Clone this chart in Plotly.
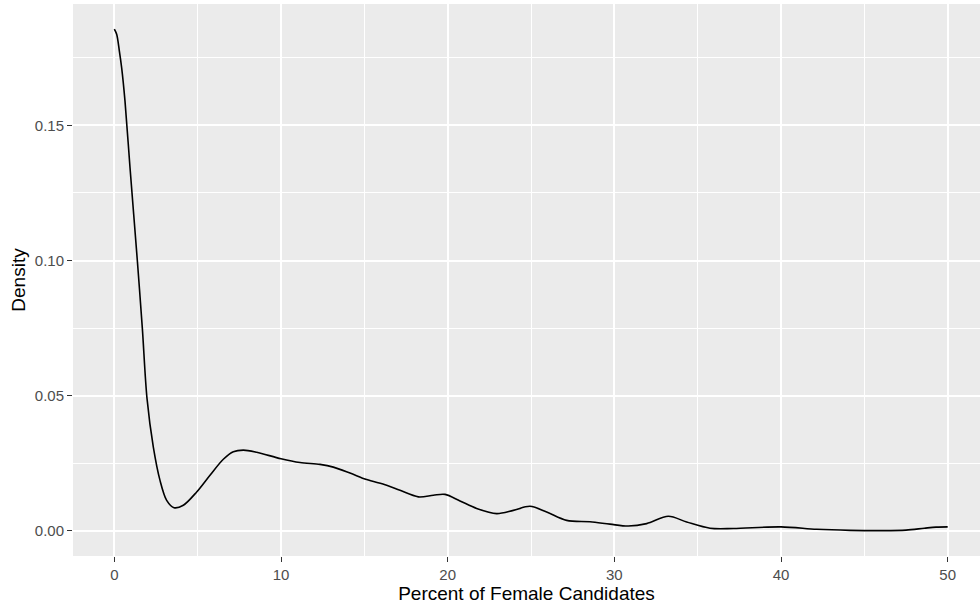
import plotly.graph_objects as go

# Density curve points
pct = [0.0, 0.14, 0.3, 0.44, 0.64, 0.94, 1.38, 1.68, 1.96, 2.34, 2.74, 3.14, 3.58, 4.14, 4.94,
       5.74, 6.54, 7.14, 7.74, 8.54, 10.0, 11.14, 12.34, 13.14, 14.14, 15.14, 16.34, 17.14,
       18.24, 19.14, 19.84, 20.74, 21.74, 22.94, 23.94, 24.94, 25.94, 27.14, 28.54,
       29.74, 30.84, 31.94, 33.24, 34.34, 35.74, 37.14, 40.0, 42.14, 44.14, 46.14,
       47.5, 48.6, 49.3, 50.0]
density = [0.1856, 0.1837, 0.1776, 0.1713, 0.159, 0.1344, 0.10, 0.075, 0.049, 0.031, 0.0187,
           0.0113, 0.0086, 0.0095, 0.0144, 0.0206, 0.0265, 0.0293, 0.0299, 0.0291, 0.0267,
           0.0253, 0.0246, 0.0236, 0.0214, 0.019, 0.0169, 0.015, 0.0126, 0.0132, 0.0135,
           0.0111, 0.0083, 0.0064, 0.0076, 0.0091, 0.007, 0.0039, 0.0034, 0.0025, 0.0018,
           0.0027, 0.0054, 0.0033, 0.001, 0.0009, 0.0015, 0.0006, 0.0002, 0.0001,
           0.0003, 0.0010, 0.0014, 0.0015]

x_ticks = [0, 10, 20, 30, 40, 50]
y_ticks = [0.0, 0.05, 0.10, 0.15]
y_tick_labels = ["0.00", "0.05", "0.10", "0.15"]

fig = go.Figure()
fig.add_trace(go.Scatter(x=pct, y=density, mode="lines",
                         line=dict(color="black", width=1.6, shape="spline", smoothing=0.9),
                         showlegend=False, hoverinfo="skip"))

font = "Liberation Sans, Arial, sans-serif"
fig.update_layout(
    width=980, height=606,
    margin=dict(l=73, r=0, t=4, b=50),
    paper_bgcolor="white", plot_bgcolor="#EBEBEB",
    font=dict(family=font, color="#4D4D4D", size=15),
    xaxis=dict(range=[-2.48, 51.94], tickvals=x_ticks, ticktext=[str(v) for v in x_ticks],
               showgrid=True, gridcolor="white", gridwidth=1.5,
               minor=dict(dtick=5, tick0=0, showgrid=True, gridcolor="white", gridwidth=0.7),
               zeroline=False, ticks="outside", ticklen=5, tickwidth=1.1, tickcolor="#333333",
               tickfont=dict(size=15, color="#4D4D4D"),
               title=dict(text="Percent of Female Candidates", font=dict(size=19, color="black"),
                          standoff=2),
               showline=False, fixedrange=True),
    yaxis=dict(range=[-0.00928, 0.1949], tickvals=y_ticks, ticktext=y_tick_labels,
               showgrid=True, gridcolor="white", gridwidth=1.5,
               minor=dict(dtick=0.025, tick0=0, showgrid=True, gridcolor="white", gridwidth=0.7),
               zeroline=False, ticks="outside", ticklen=5, tickwidth=1.1, tickcolor="#333333",
               tickfont=dict(size=15, color="#4D4D4D"),
               title=dict(text="Density", font=dict(size=19, color="black"), standoff=4),
               showline=False, fixedrange=True),
)

fig.write_html("out.html")
